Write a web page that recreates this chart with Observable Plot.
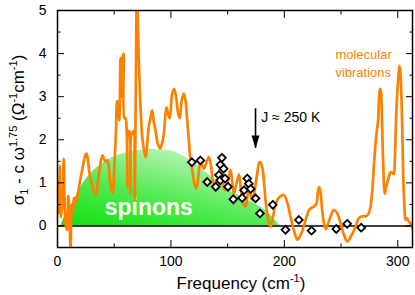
<!DOCTYPE html>
<html><head><meta charset="utf-8">
<script src="https://cdn.jsdelivr.net/npm/d3@7"></script>
<script src="https://cdn.jsdelivr.net/npm/@observablehq/plot@0.6"></script>
<style>body{margin:0;background:#fff;}</style>
</head><body><div id="chart"></div>
<script>
// Optical conductivity spectrum (orange line)
const spectrumFreq = [1,2,3,4.5,5.5,7,8.5,9.5,10.5,11.5,12.5,13.5,14.5,16,18,21,25.5,29,33.5,37,39.7,42,44,46.5,48.5,50.5,51.5,52.6,53.5,54.5,55.5,56.2,57,58.3,59,60,61,61.7,62.5,63.3,64.2,65,66,67,68,69,70,71,72,73.5,75,77.6,80.5,82,83.5,85,86.5,88.5,90.5,92.5,94,96,97.5,99,101,102.8,104.5,106.5,107.8,109.5,111.3,112.9,114.5,115.8,117,118.8,120.5,122.3,124,126,127.5,129,131,133.4,135,137,139.3,141,143,145,146.5,148,150,152.5,154,155.5,157.5,160,161.5,163,165.8,168.7,170.2,171.7,174,176,178,179.5,181,183.4,185.5,187.8,190,192,195,199.6,203,205.5,208.5,211.5,214.5,217,219.5,221.8,224,226,228,230.5,231.5,233.4,235,236.8,238.5,240.7,243.5,246.5,249.6,252.5,255.5,258.5,262.8,265,267.2,270,272,274.5,276,277.5,279,280.4,281.5,282.7,283.6,284.4,285.2,285.9,287,288.6,290.2,292.2,293.5,294.5,295.8,296.6,297.5,298.3,299.2,300.4,301.5,302.3,303,304,304.8,305.8,306.9,308.3,309.8,311.5,313];
const spectrumSigma = [0.3,1.4,0.2,0.6,1.56,0.1,-0.1,0.7,0.3,-0.55,0.5,0.3,0.65,0.55,0.75,1.2,1.68,1.1,0.72,1.3,1.64,1.5,1.52,1.0,0.75,1.6,2.14,2.9,2.8,2.45,3.9,3.0,3.8,4.0,2.5,2.5,2.2,0.9,2.2,2.2,0.75,2.1,2.15,2.2,0.6,3.0,5.5,4.6,3.6,2.6,2.0,1.6,2.3,2.5,2.68,2.4,2.2,1.9,1.8,1.95,2.2,2.75,2.6,2.5,3.05,3.18,3.0,2.6,2.5,2.9,3.07,2.9,2.4,2.0,1.6,1.3,1.0,0.87,1.1,1.48,1.4,1.33,1.45,1.6,1.45,1.05,0.83,1.0,1.3,1.2,0.9,0.83,1.0,1.3,1.05,0.75,0.95,1.2,0.9,0.6,0.45,0.9,0.75,0.6,0.85,1.2,1.48,1.45,1.3,0.6,0.2,-0.02,0.2,0.48,0.65,0.72,0.5,0.21,-0.1,-0.32,-0.2,-0.02,0.2,0.37,0.42,0.45,0.5,0.9,0.85,0.37,0.05,-0.07,0.05,0.21,0.37,0.3,0.06,-0.2,-0.36,-0.25,-0.02,0.15,0.21,0.23,0.22,0.3,0.45,0.8,1.4,1.9,2.2,2.45,3.0,3.18,3.1,2.7,1.6,0.75,0.95,1.14,1.24,1.25,1.22,1.2,1.6,2.3,2.9,3.4,3.72,3.55,3.2,2.2,1.2,0.5,0.14,0.18,0.1,0.05,-0.05];

// Spinon continuum (green area)
const spinonFreq = [3,7,11.7,17.6,23,29.4,36,44,51,58.8,66,73.5,80,88,95,103,110,117.6,125,132,140,147,154,161.7,169,176.4,182,188,192,195.5,197];
const spinonSigma = [0,0.25,0.45,0.75,1.0,1.22,1.38,1.52,1.61,1.68,1.72,1.75,1.77,1.77,1.76,1.72,1.63,1.52,1.37,1.22,1.06,0.91,0.79,0.68,0.58,0.48,0.38,0.25,0.13,0.02,0];

// Open diamonds
const diamondFreq = [118.5,126,132,139.5,142.3,143.5,143.7,145,146.5,147.7,150.3,155,162.8,164.5,167.3,168.7,170.3,174.6,178.5,189.8,201,212.8,224,245.8,255.4,267.8];
const diamondSigma = [1.48,1.52,1.02,0.91,1.18,1.06,1.42,1.58,1.33,1.1,0.91,0.62,0.65,0.83,1.1,0.98,0.86,0.64,0.29,0.49,-0.09,0.14,-0.11,-0.07,0.05,-0.04];

// Ticks
const xMajorTicks = [0,100,200,300];
const xMinorTicks = [50,150,250];
const yMajorTicks = [0,1,2,3,4,5];
const yMinorTicks = [-0.5,0.5,1.5,2.5,3.5,4.5];

// Annotations
const jArrow = [{x: 174.6, top: 2.72, tip: 1.8}];
const jLabel = [{x: 179.6, y: 2.52, text: "J ≈ 250 K"}];
const molLabel = [{x: 245, y: 3.79, text: "molecular\nvibrations"}];
const spinLabel = [{x: 80.5, y: 0.42, text: "spinons"}];

const spectrum = spectrumFreq.map((f, i) => ({f, s: spectrumSigma[i]}));
const spinon = spinonFreq.map((f, i) => ({f, s: spinonSigma[i]}));
const diamonds = diamondFreq.map((f, i) => ({f, s: diamondSigma[i]}));

const orange = "#ff8000";

const arrowHead = {
  draw(context) {
    context.moveTo(0, 0);
    context.lineTo(-4, -13);
    context.lineTo(4, -13);
    context.closePath();
  }
};

const defs = () => {
  const d = d3.create("svg:defs");
  const g = d.append("linearGradient").attr("id", "spinGrad")
    .attr("x1", 0).attr("y1", 1).attr("x2", 0.7).attr("y2", 0);
  g.append("stop").attr("offset", "0%").attr("stop-color", "#10e010");
  g.append("stop").attr("offset", "45%").attr("stop-color", "#50ea50");
  g.append("stop").attr("offset", "100%").attr("stop-color", "#c8f6c8");
  return d.node();
};

const chart = Plot.plot({
  width: 415,
  height: 295,
  marginLeft: 57,
  marginRight: 3,
  marginTop: 10,
  marginBottom: 48,
  style: {fontFamily: "'Liberation Sans', Arial, sans-serif", fontSize: "14px", background: "white", color: "black"},
  x: {domain: [0, 313], label: null},
  y: {domain: [-0.5, 5], label: null},
  marks: [
    defs,
    Plot.areaY(spinon, {x: "f", y: "s", fill: "url(#spinGrad)", curve: "catmull-rom"}),
    Plot.text(spinLabel, {x: "x", y: "y", text: "text", fill: "white", fontSize: 23, fontWeight: "bold", textAnchor: "middle", lineAnchor: "middle"}),
    Plot.ruleY([0], {stroke: "black", strokeWidth: 1.4}),
    Plot.line(spectrum, {x: "f", y: "s", stroke: orange, strokeWidth: 2.7, curve: "catmull-rom", clip: true}),
    Plot.dot(diamonds, {x: "f", y: "s", symbol: "diamond2", r: 3.5, fill: "white", stroke: "black", strokeWidth: 1.8}),
    Plot.ruleX(jArrow, {x: "x", y1: "top", y2: "tip", stroke: "black", strokeWidth: 1.6}),
    Plot.dot(jArrow, {x: "x", y: "tip", symbol: arrowHead, r: 5, fill: "black", stroke: "none"}),
    Plot.text(jLabel, {x: "x", y: "y", text: "text", textAnchor: "start", fontSize: 14, fill: "black"}),
    Plot.text(molLabel, {x: "x", y: "y", text: "text", textAnchor: "start", fontSize: 13, lineHeight: 1.38, fill: orange}),
    Plot.frame({stroke: "black", strokeWidth: 1.5}),
    Plot.axisX({ticks: xMajorTicks, tickSize: 0, tickPadding: 9, tickFormat: d3.format("d"), label: null}),
    Plot.axisX({ticks: xMajorTicks, tickSize: -7, tickFormat: () => "", label: null}),
    Plot.axisX({ticks: xMinorTicks, tickSize: -3.5, tickFormat: () => "", label: null}),
    Plot.axisX({anchor: "top", ticks: xMajorTicks, tickSize: -7, tickFormat: () => "", label: null}),
    Plot.axisX({anchor: "top", ticks: xMinorTicks, tickSize: -3.5, tickFormat: () => "", label: null}),
    Plot.axisY({ticks: yMajorTicks, tickSize: 0, tickPadding: 11, tickFormat: d3.format("d"), label: null}),
    Plot.axisY({ticks: yMajorTicks, tickSize: -7, tickFormat: () => "", label: null}),
    Plot.axisY({ticks: yMinorTicks, tickSize: -3.5, tickFormat: () => "", label: null}),
    Plot.axisY({anchor: "right", ticks: yMajorTicks, tickSize: -7, tickFormat: () => "", label: null}),
    Plot.axisY({anchor: "right", ticks: yMinorTicks, tickSize: -3.5, tickFormat: () => "", label: null})
  ]
});

const svg = d3.select(chart);
const fs = 17, small = 11;
// x axis title
const xt = svg.append("text").attr("x", 241).attr("y", 289)
  .attr("text-anchor", "middle").attr("font-size", fs).attr("fill", "black");
xt.append("tspan").text("Frequency (cm");
xt.append("tspan").attr("font-size", small).attr("dy", -7).text("-1");
xt.append("tspan").attr("dy", 7).text(")");
// y axis title
const yt = svg.append("text").attr("transform", "translate(24,130) rotate(-90)")
  .attr("text-anchor", "middle").attr("font-size", fs).attr("fill", "black");
yt.append("tspan").text("σ");
yt.append("tspan").attr("font-size", small).attr("dy", 4).text("1");
yt.append("tspan").attr("dy", -4).text(" - c ω");
yt.append("tspan").attr("font-size", small).attr("dy", -7).text("1.75");
yt.append("tspan").attr("dy", 7).text(" (Ω");
yt.append("tspan").attr("font-size", small).attr("dy", -7).text("-1");
yt.append("tspan").attr("dy", 7).text("cm");
yt.append("tspan").attr("font-size", small).attr("dy", -7).text("-1");
yt.append("tspan").attr("dy", 7).text(")");

document.getElementById("chart").appendChild(chart);
</script>
</body></html>
